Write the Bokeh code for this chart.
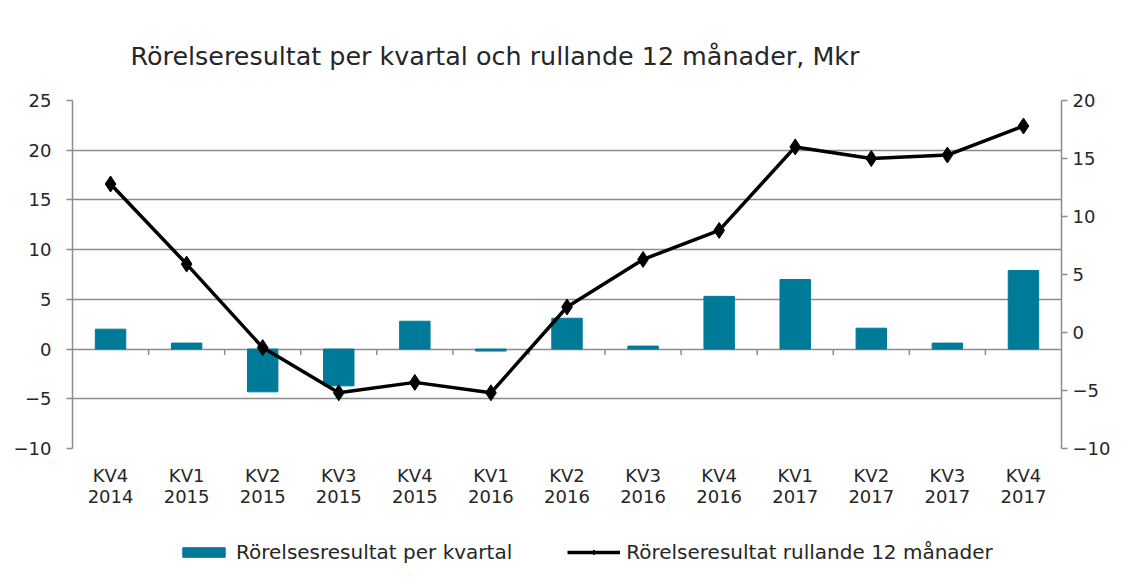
from bokeh.plotting import figure
from bokeh.layouts import column
from bokeh.models import Range1d, LinearAxis, FixedTicker, Legend, LegendItem
from bokeh.embed import file_html
from bokeh.resources import INLINE

# ---- data ----
quarter_labels = ["KV4", "KV1", "KV2", "KV3", "KV4", "KV1", "KV2", "KV3", "KV4",
                  "KV1", "KV2", "KV3", "KV4"]
year_labels = ["2014", "2015", "2015", "2015", "2015", "2016", "2016", "2016", "2016",
               "2017", "2017", "2017", "2017"]
quarterly = [2.0, 0.6, -4.3, -3.7, 2.8, -0.2, 3.1, 0.3, 5.3, 7.0, 2.1, 0.6, 7.9]
rolling = [12.8, 5.9, -1.3, -5.2, -4.3, -5.2, 2.2, 6.3, 8.8, 16.0, 15.0, 15.3, 17.8]
left_ticks = [-10, -5, 0, 5, 10, 15, 20, 25]
right_ticks = [-10, -5, 0, 5, 10, 15, 20]
title_text = "Rörelseresultat per kvartal och rullande 12 månader, Mkr"
bar_label = "Rörelsesresultat per kvartal"
line_label = "Rörelseresultat rullande 12 månader"

FONT = "DejaVu Sans"
TXT = "#262626"
GRID = "#8c8c8c"
BAR = "#007A99"

n = len(quarter_labels)
centers = [i + 0.5 for i in range(n)]
bounds = list(range(1, n))

p = figure(frame_width=989, frame_height=348, output_backend="svg", toolbar_location=None,
           x_range=Range1d(0, n), y_range=Range1d(min(left_ticks), max(left_ticks)),
           min_border_left=72, min_border_right=69, min_border_top=100, min_border_bottom=82)
p.extra_y_ranges = {"right": Range1d(min(right_ticks), max(right_ticks))}
p.outline_line_color = None

# title
p.title.text = title_text
p.title.text_font = FONT
p.title.text_font_size = "25.4px"
p.title.text_font_style = "normal"
p.title.text_color = TXT
p.title.align = "left"
p.title.offset = 58
p.title.standoff = 59

# grid
p.xgrid.visible = False
p.ygrid.ticker = FixedTicker(ticks=left_ticks)
p.ygrid.grid_line_color = GRID
p.ygrid.grid_line_width = 1.5

# category boundary ticks below the zero line
tick_len = 0.6
p.segment(x0=bounds, y0=[0] * len(bounds), x1=bounds, y1=[-tick_len] * len(bounds),
          line_color=GRID, line_width=1.5)

# bars and line
p.vbar(x=centers, top=quarterly, bottom=0, width=0.4, fill_color=BAR, line_color=BAR)
p.line(x=centers, y=rolling, y_range_name="right", line_color="black", line_width=3.5)
p.scatter(x=centers, y=rolling, y_range_name="right", marker="diamond", size=16,
          fill_color="black", line_color="black")

def label_axis(ax, labels, standoff):
    ax.ticker = FixedTicker(ticks=centers)
    ax.major_label_overrides = {c: s for c, s in zip(centers, labels)}
    ax.axis_line_color = None
    ax.major_tick_line_color = None
    ax.minor_tick_line_color = None
    ax.major_tick_in = 0
    ax.major_tick_out = 0
    ax.major_label_text_font = FONT
    ax.major_label_text_font_size = "18px"
    ax.major_label_text_color = TXT
    ax.major_label_standoff = standoff

label_axis(p.xaxis[0], quarter_labels, 16)
year_axis = LinearAxis()
label_axis(year_axis, year_labels, 1)
p.add_layout(year_axis, "below")

# left axis
ya = p.yaxis[0]
ya.ticker = FixedTicker(ticks=left_ticks)
ya.axis_line_color = GRID
ya.axis_line_width = 1.5
ya.major_tick_line_color = GRID
ya.major_tick_line_width = 1.5
ya.major_tick_in = 0
ya.major_tick_out = 6
ya.minor_tick_line_color = None
ya.major_label_text_font = FONT
ya.major_label_text_font_size = "18px"
ya.major_label_text_color = TXT
ya.major_label_standoff = 15

# right axis
ra = LinearAxis(y_range_name="right", ticker=FixedTicker(ticks=right_ticks),
                axis_line_color=GRID, axis_line_width=1.5,
                major_tick_line_color=GRID, major_tick_line_width=1.5,
                major_tick_in=0, major_tick_out=6, minor_tick_line_color=None,
                major_label_text_font=FONT, major_label_text_font_size="18px",
                major_label_text_color=TXT, major_label_standoff=5)
p.add_layout(ra, "right")

# legend strip below the chart; key renderers sit outside its visible range
lf = figure(frame_width=1130, frame_height=54, output_backend="svg", toolbar_location=None,
            x_range=Range1d(0, 1), y_range=Range1d(0, 1), x_axis_type=None, y_axis_type=None,
            min_border=0)
lf.outline_line_color = None
lf.grid.visible = False
k_bar = lf.vbar(x=[5], top=[1], bottom=0, width=0.4, fill_color=BAR, line_color=BAR)
k_line = lf.line(x=[5, 6], y=[0.5, 0.5], line_color="black", line_width=3.5)
k_pts = lf.scatter(x=[5], y=[0.5], marker="diamond", size=12,
                   fill_color="black", line_color="black")
legend = Legend(items=[LegendItem(label=bar_label, renderers=[k_bar]),
                       LegendItem(label=line_label, renderers=[k_line, k_pts])],
                orientation="horizontal", location=(177, 20),
                label_text_font=FONT, label_text_font_size="20px", label_text_color=TXT,
                glyph_width=53, glyph_height=12, label_standoff=6, spacing=55,
                border_line_color=None, background_fill_alpha=0, margin=0, padding=0)
lf.add_layout(legend)

open("out.html", "w").write(file_html(column(p, lf), INLINE))
